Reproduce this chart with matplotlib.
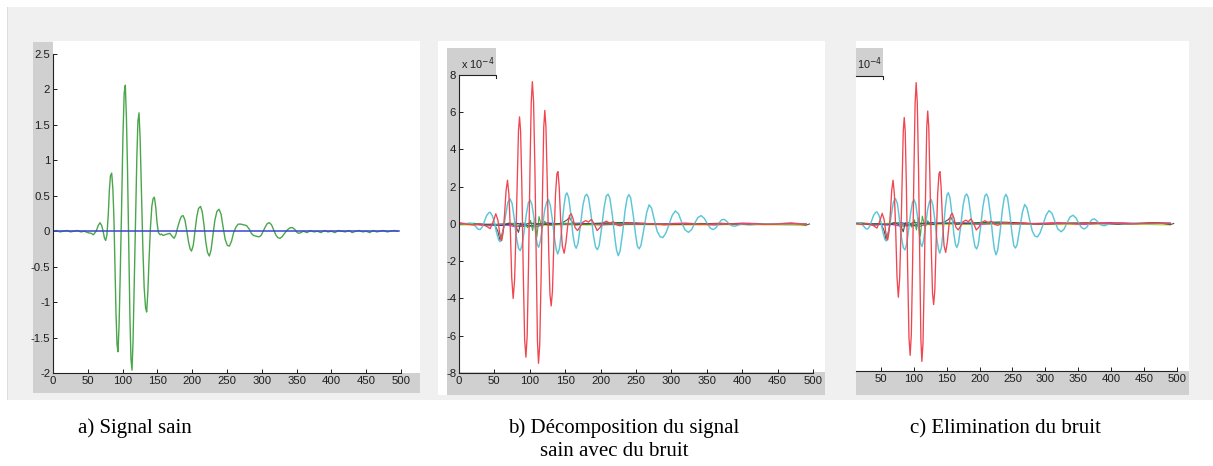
import matplotlib
matplotlib.use('Agg')
import matplotlib.pyplot as plt
from matplotlib.patches import Rectangle

plt.rcParams['axes.unicode_minus'] = False

# ---------------- data ----------------
# a) healthy signal
sig_x = [0, 5, 10, 15, 20, 25, 30, 35, 40, 45, 50, 55, 58, 62, 65, 67.5, 70, 72, 74, 75.7, 77.5,
         79.5, 81, 82.5, 84.3, 86, 87.5, 89, 90.5, 92, 93.4, 95, 96.5, 98.5, 100.5, 102.3, 103.9,
         105.5, 107, 108.7, 110.5, 112, 113.5, 115, 116.5, 118.5, 120.5, 122, 123.6, 125.2, 127,
         129, 131, 133, 134.6, 136.3, 138, 140, 142, 143.8, 145.6, 147.5, 149.5, 151.5, 154, 156,
         158, 161, 164, 168, 171, 174, 176.5, 179, 182, 184.5, 187, 189.5, 192, 194.5, 197, 199,
         201.5, 204, 206.5, 209, 212, 214.5, 217, 219.5, 222, 224.6, 227, 229.5, 232.5, 235.5,
         238.5, 241.5, 244.5, 247.5, 250.5, 253.5, 256.5, 259.5, 263, 266, 270, 274, 278, 282,
         285, 288, 292, 296, 299, 302, 305, 308, 311, 314, 317, 320, 323, 326, 329, 332, 335, 338,
         341, 344, 347, 350, 353, 356, 360, 365, 370, 375, 380, 385, 390, 395, 400, 405, 410, 415,
         420, 425, 430, 435, 440, 445, 450, 455, 460, 465, 470, 475, 480, 485, 490, 495]
sig_y = [0.0, 0.01, -0.01, 0.0, 0.01, -0.01, 0.0, 0.01, -0.01, 0.0, -0.02, -0.03, -0.05, 0.0, 0.08,
         0.12, 0.08, 0.0, -0.1, -0.13, -0.05,
         0.25, 0.58, 0.78, 0.82, 0.6, 0.2, -0.45, -1.15, -1.6, -1.7, -1.3, -0.65, 0.3, 1.35, 1.95,
         2.06, 1.6, 0.9, -0.1, -1.2, -1.8, -1.96, -1.55, -0.85, 0.1, 1.05, 1.55, 1.67, 1.3, 0.6,
         -0.2, -0.8, -1.08, -1.14, -0.85, -0.4, 0.05, 0.35, 0.46, 0.48, 0.35, 0.12, -0.02, -0.05,
         -0.04, -0.06, -0.05, -0.04, -0.03, -0.07, -0.1, -0.05, 0.05, 0.15, 0.21, 0.22, 0.16, 0.02,
         -0.14, -0.25, -0.28, -0.2, 0.0, 0.2, 0.32, 0.35, 0.27, 0.08, -0.15, -0.3, -0.35, -0.27,
         -0.08, 0.15, 0.28, 0.31, 0.24, 0.05, -0.12, -0.2, -0.21, -0.14, -0.02, 0.06, 0.1, 0.1,
         0.09, 0.08, 0.03, -0.03, -0.06, -0.07, -0.08, -0.06, 0.0, 0.06, 0.11, 0.12, 0.09, 0.02,
         -0.05, -0.09, -0.1, -0.08, -0.04, 0.0, 0.03, 0.05, 0.05, 0.03, -0.01, -0.03, -0.02, 0.0,
         -0.02, 0.01, -0.01, 0.0, -0.02, 0.01, -0.01, 0.0, -0.02, 0.01, 0.0, -0.01, 0.01, -0.02,
         0.0, 0.01, -0.01, 0.0, -0.02, 0.01, -0.01, 0.0, 0.01, -0.01, 0.0, 0.01, 0.0]
zero_x = [0, 497]
zero_y = [0, 0]

# b) / c) decomposition (units of 1e-4)
red_x = [0, 10, 20, 30, 38, 44, 48, 52, 55, 57.5, 60.3, 62.5, 64.5, 66.5, 68.5, 70.5, 72.5, 74.5,
         76.5, 78.5, 80.5, 82.5, 84, 85.5, 87, 88.8, 90.7, 92.7, 94.5, 96.3, 98.2, 100.2, 102,
         103.6, 105.3, 107.3, 109.2, 110.8, 112.3, 114, 116, 118, 119.7, 121.2, 122.8, 124.8,
         126.8, 128.5, 130.2, 132, 134, 136.3, 138.3, 139.8, 141.5, 143.7, 146, 148.5, 151, 153.5,
         156, 158.5, 161, 164, 167.5, 171, 175, 179, 183, 187, 191, 195, 199, 203, 208, 213, 218,
         223, 228, 234, 240, 250, 260, 275, 290, 310, 330, 350, 370, 390, 410, 430, 450, 470, 490]
red_y = [0.05, 0.0, -0.05, 0.0, -0.1, -0.25, 0.1, 0.55, 0.2, -0.5, -0.9, -0.4, 0.6, 1.8, 2.35, 1.6,
         -0.3, -2.9, -4.0, -3.0, -0.5, 2.6, 5.0, 5.75, 5.0, 2.0, -2.5, -6.2, -7.15, -6.0, -2.2, 2.8,
         6.5, 7.64, 6.6, 2.8, -2.2, -6.3, -7.48, -6.5, -2.8, 1.8, 5.2, 6.1, 5.2, 2.0, -1.6, -3.8,
         -4.4, -3.6, -1.0, 1.6, 2.7, 2.81, 2.0, 0.1, -1.2, -1.57, -1.0, -0.1, 0.45, 0.55, 0.3,
         -0.2, -0.35, -0.15, 0.1, 0.18, 0.1, 0.25, 0.0, -0.35, -0.2, 0.05, 0.15, 0.05, 0.12, -0.05,
         -0.1, 0.02, 0.05, -0.02, 0.03, 0.0, -0.03, 0.02, 0.0, -0.02, 0.02, 0.0, 0.02, -0.02, 0.0,
         0.02, 0.0]
cyan_x = [0, 8, 15, 20, 24, 27, 30, 33, 36, 39, 42, 44, 47, 50, 53, 56, 58, 60.5, 63, 66, 69, 72,
          75, 78, 81, 84, 86.5, 89, 92, 95, 98, 100.5, 103, 106, 108.5, 110.5, 112.5, 115, 118,
          121, 124, 126.5, 129, 132, 135, 137.5, 139.5, 142, 145, 148, 150.5, 152.5, 155, 158,
          161, 163.5, 165.5, 168, 171.5, 175, 178, 180.5, 183, 186.5, 190, 193, 195.5, 198,
          201.5, 205, 208, 210.5, 213, 216.5, 220, 222.5, 225, 227.5, 231, 234.5, 237.5, 240,
          242.5, 246, 249.5, 252, 254.5, 257, 261, 265, 268.5, 272, 276, 280, 284, 288, 292,
          296.5, 301, 305.5, 310, 314.5, 319, 324, 328.5, 333, 337.5, 342, 346.5, 351, 355, 359,
          363, 367, 371, 374.5, 378, 382, 386, 390, 394, 400, 410, 420, 430, 445, 460, 475, 490]
cyan_y = [0.05, 0.0, 0.05, 0.0, -0.15, -0.28, -0.3, -0.15, 0.15, 0.45, 0.6, 0.63, 0.45, 0.1,
          -0.45, -0.85, -0.95, -0.75, -0.2, 0.5, 1.15, 1.36, 1.1, 0.3, -0.7, -1.3, -1.43, -1.15,
          -0.4, 0.5, 1.15, 1.29, 1.05, 0.3, -0.6, -1.1, -1.25, -0.9, -0.1, 0.75, 1.2, 1.3, 1.0,
          0.2, -0.8, -1.4, -1.61, -1.3, -0.3, 0.9, 1.55, 1.67, 1.4, 0.5, -0.6, -1.15, -1.3, -1.05,
          -0.1, 1.0, 1.5, 1.6, 1.4, 0.5, -0.65, -1.25, -1.38, -1.15, -0.2, 0.9, 1.5, 1.6, 1.4,
          0.5, -0.7, -1.4, -1.7, -1.45, -0.5, 0.7, 1.4, 1.58, 1.4, 0.5, -0.6, -1.2, -1.33, -1.15,
          -0.3, 0.6, 1.03, 0.85, 0.2, -0.4, -0.68, -0.73, -0.5, -0.05, 0.45, 0.7, 0.55, 0.1, -0.3,
          -0.45, -0.3, 0.05, 0.35, 0.45, 0.3, 0.0, -0.22, -0.3, -0.2, 0.05, 0.22, 0.25, 0.15,
          -0.02, -0.1, -0.12, -0.06, 0.0, 0.02, -0.02, 0.0, 0.02, -0.02, 0.0, 0.02]
green_x = [0, 20, 40, 60, 75, 85, 92, 97, 101, 104, 107, 110, 113, 117, 121, 126, 135, 150,
           180, 220, 260, 300, 340, 380, 420, 460, 490]
green_y = [0.0, 0.04, -0.04, 0.0, 0.04, -0.08, 0.06, -0.2, 0.2, -0.35, 0.3, -0.7, 0.4, -0.2, 0.15,
           -0.05, 0.0, 0.04, -0.03, 0.02, 0.0, -0.02, 0.03, 0.0, -0.02, 0.03, 0.0]
black_x = [0, 30, 50, 55, 58, 61, 64, 70, 80, 84, 87, 90, 95, 100, 130, 145, 152, 156, 160,
           165, 175, 200, 230, 260, 290, 330, 370, 410, 440, 470, 490, 495]
black_y = [0.03, -0.03, 0.0, -0.4, -0.9, -0.5, -0.05, 0.05, -0.1, -0.45, 0.05, -0.15, 0.0, 0.05,
           -0.05, 0.05, 0.2, 0.35, 0.1, -0.05, 0.0, 0.05, 0.08, 0.04, -0.04, 0.0, 0.04, -0.04,
           0.0, 0.04, -0.06, 0.0]
magenta_x = [0, 20, 40, 60, 80, 95, 110, 125, 140, 170, 200, 240, 280, 320, 360, 400, 440, 470, 490]
magenta_y = [0.05, 0.0, -0.1, 0.0, -0.15, -0.1, -0.15, 0.05, 0.0, 0.05, -0.05, 0.05, 0.0, 0.05,
             -0.05, 0.05, 0.0, 0.05, 0.0]
yellow_x = [0, 50, 100, 150, 200, 250, 300, 350, 400, 450, 490]
yellow_y = [-0.05, -0.05, -0.08, -0.05, -0.05, -0.03, -0.05, -0.05, -0.03, -0.05, -0.08]
blue_x = [0, 30, 60, 80, 100, 120, 150, 200, 260, 320, 380, 440, 490]
blue_y = [0.02, 0.0, -0.08, 0.05, -0.1, 0.05, 0.0, 0.02, -0.02, 0.0, 0.02, 0.0, 0.02]

xticks = [0, 50, 100, 150, 200, 250, 300, 350, 400, 450, 500]
yticks_a = [-2, -1.5, -1, -0.5, 0, 0.5, 1, 1.5, 2, 2.5]
yticks_a_lbl = ['-2', '-1.5', '-1', '-0.5', '0', '0.5', '1', '1.5', '2', '2.5']
yticks_b = [-8, -6, -4, -2, 0, 2, 4, 6, 8]
captions = ['a) Signal sain', 'b) Décomposition du signal', 'sain avec du bruit',
            'c) Elimination du bruit']

# ---------------- figure ----------------
W, H = 1213, 466
fig = plt.figure(figsize=(W / 100, H / 100), dpi=100)
fig.patch.set_facecolor('white')

LIGHT = '#f0f0f0'
GREY = '#d0d0d0'
TXT = '#1e1e1e'
TICK_FS = 8.2


def rect(x0, y0, x1, y1, color):
    fig.patches.append(Rectangle((x0 / W, 1 - y1 / H), (x1 - x0) / W, (y1 - y0) / H,
                                 transform=fig.transFigure, facecolor=color,
                                 edgecolor='none', zorder=-5))


def axes_px(x0, y0, x1, y1):
    ax = fig.add_axes([x0 / W, 1 - y1 / H, (x1 - x0) / W, (y1 - y0) / H])
    ax.set_facecolor('none')
    for s in ['top', 'right']:
        ax.spines[s].set_visible(False)
    for s in ['left', 'bottom']:
        ax.spines[s].set_color('#222222')
        ax.spines[s].set_linewidth(0.8)
    ax.tick_params(direction='in', length=3, width=0.7, labelsize=TICK_FS,
                   colors=TXT, pad=2)
    return ax


# panel backgrounds
rect(7, 7, 420, 400, LIGHT)
rect(7, 7, 8, 400, '#dcdcdc')
rect(33, 42, 420, 393, GREY)
rect(53, 41, 420, 373, 'white')

rect(420, 7, 838, 400, LIGHT)
rect(438, 41, 825, 395, 'white')
rect(447, 48, 459, 395, GREY)
rect(447, 48, 496, 75, GREY)
rect(447, 372, 825, 395, GREY)

rect(838, 7, 1213, 400, LIGHT)
rect(856, 41, 1189, 395, 'white')
rect(856, 48, 883, 77, GREY)
rect(856, 371, 1189, 395, GREY)

# ---- panel a ----
axA = axes_px(53, 54, 401, 373)
axA.plot(sig_x, sig_y, color='#4aa64a', lw=1.0)
axA.plot(zero_x, zero_y, color='#3a46d0', lw=1.1)
axA.set_xlim(0, 500)
axA.set_ylim(-2, 2.5)
axA.set_xticks(xticks)
axA.set_yticks(yticks_a)
axA.set_yticklabels(yticks_a_lbl)

# ---- panel b / c ----
def draw_decomp(ax):
    ax.plot(yellow_x, yellow_y, color='#d8d030', lw=0.9)
    ax.plot(magenta_x, magenta_y, color='#d040d0', lw=0.9)
    ax.plot(blue_x, blue_y, color='#3030c0', lw=0.8)
    ax.plot(green_x, green_y, color='#40b040', lw=0.8)
    ax.plot(black_x, black_y, color='#505050', lw=0.8)
    ax.plot(cyan_x, cyan_y, color='#5cc6d6', lw=1.05)
    ax.plot(red_x, red_y, color='#f04650', lw=0.95)


axB = axes_px(459, 75, 813, 373)
draw_decomp(axB)
axB.set_xlim(0, 500)
axB.set_ylim(-8, 8)
axB.set_xticks(xticks)
axB.set_yticks(yticks_b)
axB.plot([0, 0.105, 0.105], [1, 1, 0.99], transform=axB.transAxes, color='#222222',
         lw=0.8, clip_on=False)

axC = axes_px(856, 76, 1177, 371)
draw_decomp(axC)
axC.set_xlim(12.2, 500)
axC.set_ylim(-8, 8)
axC.set_xticks(xticks[1:])
axC.set_yticks([])
axC.spines['left'].set_visible(False)
axC.plot([0, 0.084, 0.084], [1, 1, 0.99], transform=axC.transAxes, color='#222222',
         lw=0.8, clip_on=False)

for a in (axA, axB, axC):
    for lbl in a.get_xticklabels() + a.get_yticklabels():
        lbl.set_family('Liberation Sans')

fig.text(461 / W, 1 - 64 / H, r'x 10$^{-4}$', fontsize=7.8, color=TXT,
         va='center', ha='left', family='Liberation Sans')
fig.text(857 / W, 1 - 64 / H, r'10$^{-4}$', fontsize=7.8, color=TXT,
         va='center', ha='left', family='Liberation Sans')

# captions
cap_kw = dict(family='Liberation Serif', fontsize=15, color='black', va='baseline', ha='left')
fig.text(78 / W, 1 - 433 / H, captions[0], **cap_kw)
fig.text(508 / W, 1 - 433 / H, captions[1], **cap_kw)
fig.text(540 / W, 1 - 456 / H, captions[2], **cap_kw)
fig.text(910 / W, 1 - 433 / H, captions[3], **cap_kw)

fig.savefig('out.png', dpi=100, facecolor='white')
